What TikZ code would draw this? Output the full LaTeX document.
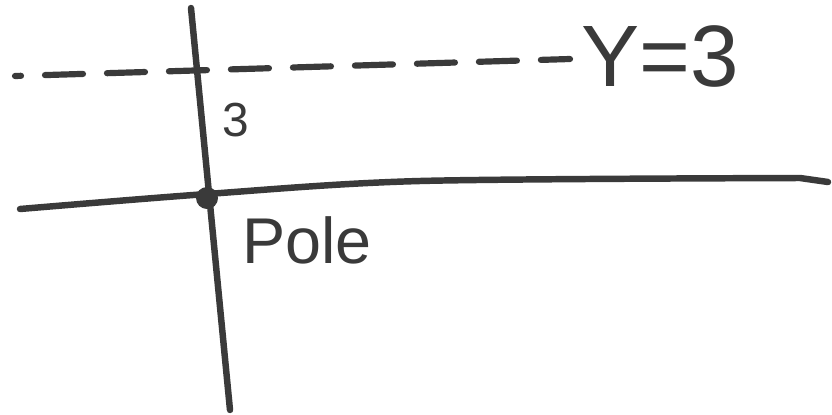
\documentclass[tikz,border=0pt]{standalone}
\usepackage{fontspec}
\setmainfont{Liberation Sans}
\usepackage{xcolor}
\usetikzlibrary{positioning}
\definecolor{ink}{HTML}{3A3A3A}

\begin{document}
\begin{tikzpicture}[x=0.025cm, y=-0.025cm, line cap=round, line join=round, every node/.style={text=ink}]
\useasboundingbox (0,0) rectangle (832,414);
\coordinate (ytop) at (191,8);
\coordinate (ybot) at (230,410);
\coordinate (xleft) at (20,209);
\coordinate (xright) at (828,182);
\coordinate (dleft) at (15,76);
\coordinate (dright) at (570,59);
\node[circle, fill=ink, minimum size=0.55cm, inner sep=0pt] (pole) at (207,198) {};
\draw[ink, line width=4.6pt] (ytop) -- (ybot);
\draw[ink, line width=4.6pt] plot[smooth] coordinates {(20,209) (207,194) (420,181) (800,178)} -- (xright);
\draw[ink, line width=4.4pt, dash pattern=on 0.95cm off 0.6cm, dash phase=0.8cm] (dleft) -- (dright);
\node[font=\fontsize{34}{34}\selectfont] (three) at (236,120) {3};
\node[font=\fontsize{62}{62}\selectfont] (yeq) at (660,56) {Y=3};
\node[font=\fontsize{46}{46}\selectfont] (polelabel) at (307,240) {Pole};
\end{tikzpicture}
\end{document}
